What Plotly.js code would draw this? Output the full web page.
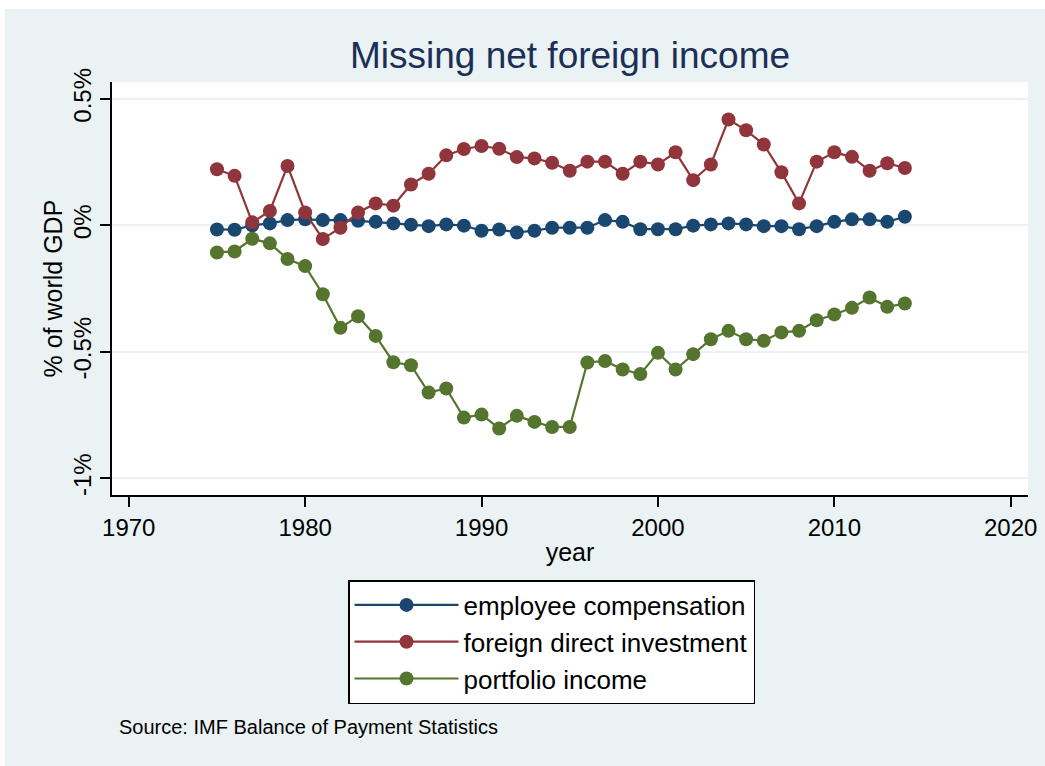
<!DOCTYPE html>
<html><head><meta charset="utf-8">
<script src="https://cdn.plot.ly/plotly-3.0.1.min.js"></script>
<style>
html,body{margin:0;padding:0;background:#ffffff;}
#chart{position:absolute;left:5px;top:9px;width:1040px;height:757px;}
</style>
</head><body>
<div id="chart"></div>
<script>
const years = [1975,1976,1977,1978,1979,1980,1981,1982,1983,1984,1985,1986,1987,1988,1989,1990,1991,1992,1993,1994,1995,1996,1997,1998,1999,2000,2001,2002,2003,2004,2005,2006,2007,2008,2009,2010,2011,2012,2013,2014];
const employeeCompensation = [-0.016,-0.017,0.000,0.008,0.021,0.024,0.021,0.021,0.018,0.014,0.008,0.003,-0.003,0.004,-0.001,-0.021,-0.016,-0.028,-0.021,-0.009,-0.009,-0.009,0.021,0.014,-0.015,-0.015,-0.015,-0.001,0.004,0.008,0.004,-0.003,-0.003,-0.015,-0.003,0.014,0.024,0.024,0.014,0.034];
const foreignDirectInvestment = [0.222,0.196,0.012,0.057,0.235,0.051,-0.054,-0.009,0.051,0.087,0.078,0.162,0.204,0.277,0.302,0.314,0.303,0.270,0.265,0.248,0.216,0.252,0.252,0.204,0.252,0.241,0.289,0.179,0.241,0.419,0.376,0.320,0.210,0.087,0.252,0.289,0.271,0.216,0.246,0.227];
const portfolioIncome = [-0.107,-0.103,-0.053,-0.071,-0.133,-0.161,-0.272,-0.405,-0.359,-0.437,-0.541,-0.553,-0.661,-0.645,-0.760,-0.748,-0.803,-0.753,-0.777,-0.797,-0.797,-0.542,-0.536,-0.570,-0.588,-0.504,-0.570,-0.509,-0.450,-0.417,-0.450,-0.456,-0.423,-0.417,-0.375,-0.352,-0.326,-0.285,-0.322,-0.309];
const seriesNames = ["employee compensation","foreign direct investment","portfolio income"];
const xTickVals = [1970,1980,1990,2000,2010,2020];
const yTickVals = [0.5,0,-0.5,-1];
const yTickText = ["0.5%","0%","-0.5%","-1%"];
const chartTitle = "Missing net foreign income";
const xTitle = "year";
const yTitle = "% of world GDP";
const sourceNote = "Source: IMF Balance of Payment Statistics";

const colors = ["#1a476f","#90353b","#55752f"];
const seriesData = [employeeCompensation, foreignDirectInvestment, portfolioIncome];
const FONT = "Liberation Sans, Arial, Helvetica, sans-serif";

const traces = seriesData.map((vals, i) => ({
  type: "scatter",
  mode: "lines+markers",
  x: years,
  y: vals,
  name: seriesNames[i],
  legendgroup: "g" + i,
  line: {color: colors[i], width: 2.2},
  marker: {color: colors[i], size: 14, symbol: "circle"},
  hoverinfo: "x+y+name"
}));

const layout = {
  width: 1040,
  height: 757,
  paper_bgcolor: "#eaf2f3",
  plot_bgcolor: "#ffffff",
  margin: {l: 107, r: 17, t: 73, b: 271, pad: 0, autoexpand: false},
  font: {family: FONT, color: "#000000", size: 24},
  title: {
    text: chartTitle,
    font: {family: FONT, size: 37, color: "#1c2f57"},
    xref: "paper", x: 0.5, xanchor: "center",
    yref: "container", y: 1 - 46/757, yanchor: "middle"
  },
  xaxis: {
    range: [1969.05, 2020.98],
    tickvals: xTickVals,
    ticktext: xTickVals.map(String),
    ticks: "outside", ticklen: 10, tickwidth: 1.5, tickcolor: "#000000",
    showline: true, linecolor: "#000000", linewidth: 1.5,
    showgrid: false, zeroline: false,
    automargin: false,
    tickfont: {family: FONT, size: 24, color: "#000000"},
    title: {text: xTitle, font: {family: FONT, size: 25, color: "#000000"}, standoff: 4}
  },
  yaxis: {
    range: [-1.066, 0.567],
    tickvals: yTickVals,
    ticktext: yTickText,
    tickangle: -90,
    ticks: "outside", ticklen: 10, tickwidth: 1.5, tickcolor: "#000000",
    showline: true, linecolor: "#000000", linewidth: 1.5,
    showgrid: true, gridcolor: "#eaf2f3", gridwidth: 2,
    zeroline: false,
    automargin: false,
    tickfont: {family: FONT, size: 24, color: "#000000"}
  },
  showlegend: true,
  legend: {
    xref: "container", yref: "container",
    x: 343/1040, xanchor: "left",
    y: 1 - 571/757, yanchor: "top",
    bgcolor: "#ffffff", bordercolor: "#000000", borderwidth: 1.5,
    font: {family: FONT, size: 26, color: "#000000"},
    itemwidth: 104,
    traceorder: "grouped",
    tracegroupgap: 0
  },
  annotations: [
    {
      text: yTitle,
      xref: "paper", yref: "paper",
      x: (47 - 107)/916, xanchor: "center",
      y: 0.5, yanchor: "middle",
      textangle: -90,
      showarrow: false,
      font: {family: FONT, size: 25, color: "#000000"}
    },
    {
      text: sourceNote,
      xref: "paper", yref: "paper",
      x: 5/916, xanchor: "left",
      y: (486 - 718)/413, yanchor: "middle",
      showarrow: false,
      font: {family: FONT, size: 20, color: "#000000"}
    }
  ]
};

Plotly.newPlot("chart", traces, layout, {displayModeBar: false, responsive: false});
</script>
</body></html>
